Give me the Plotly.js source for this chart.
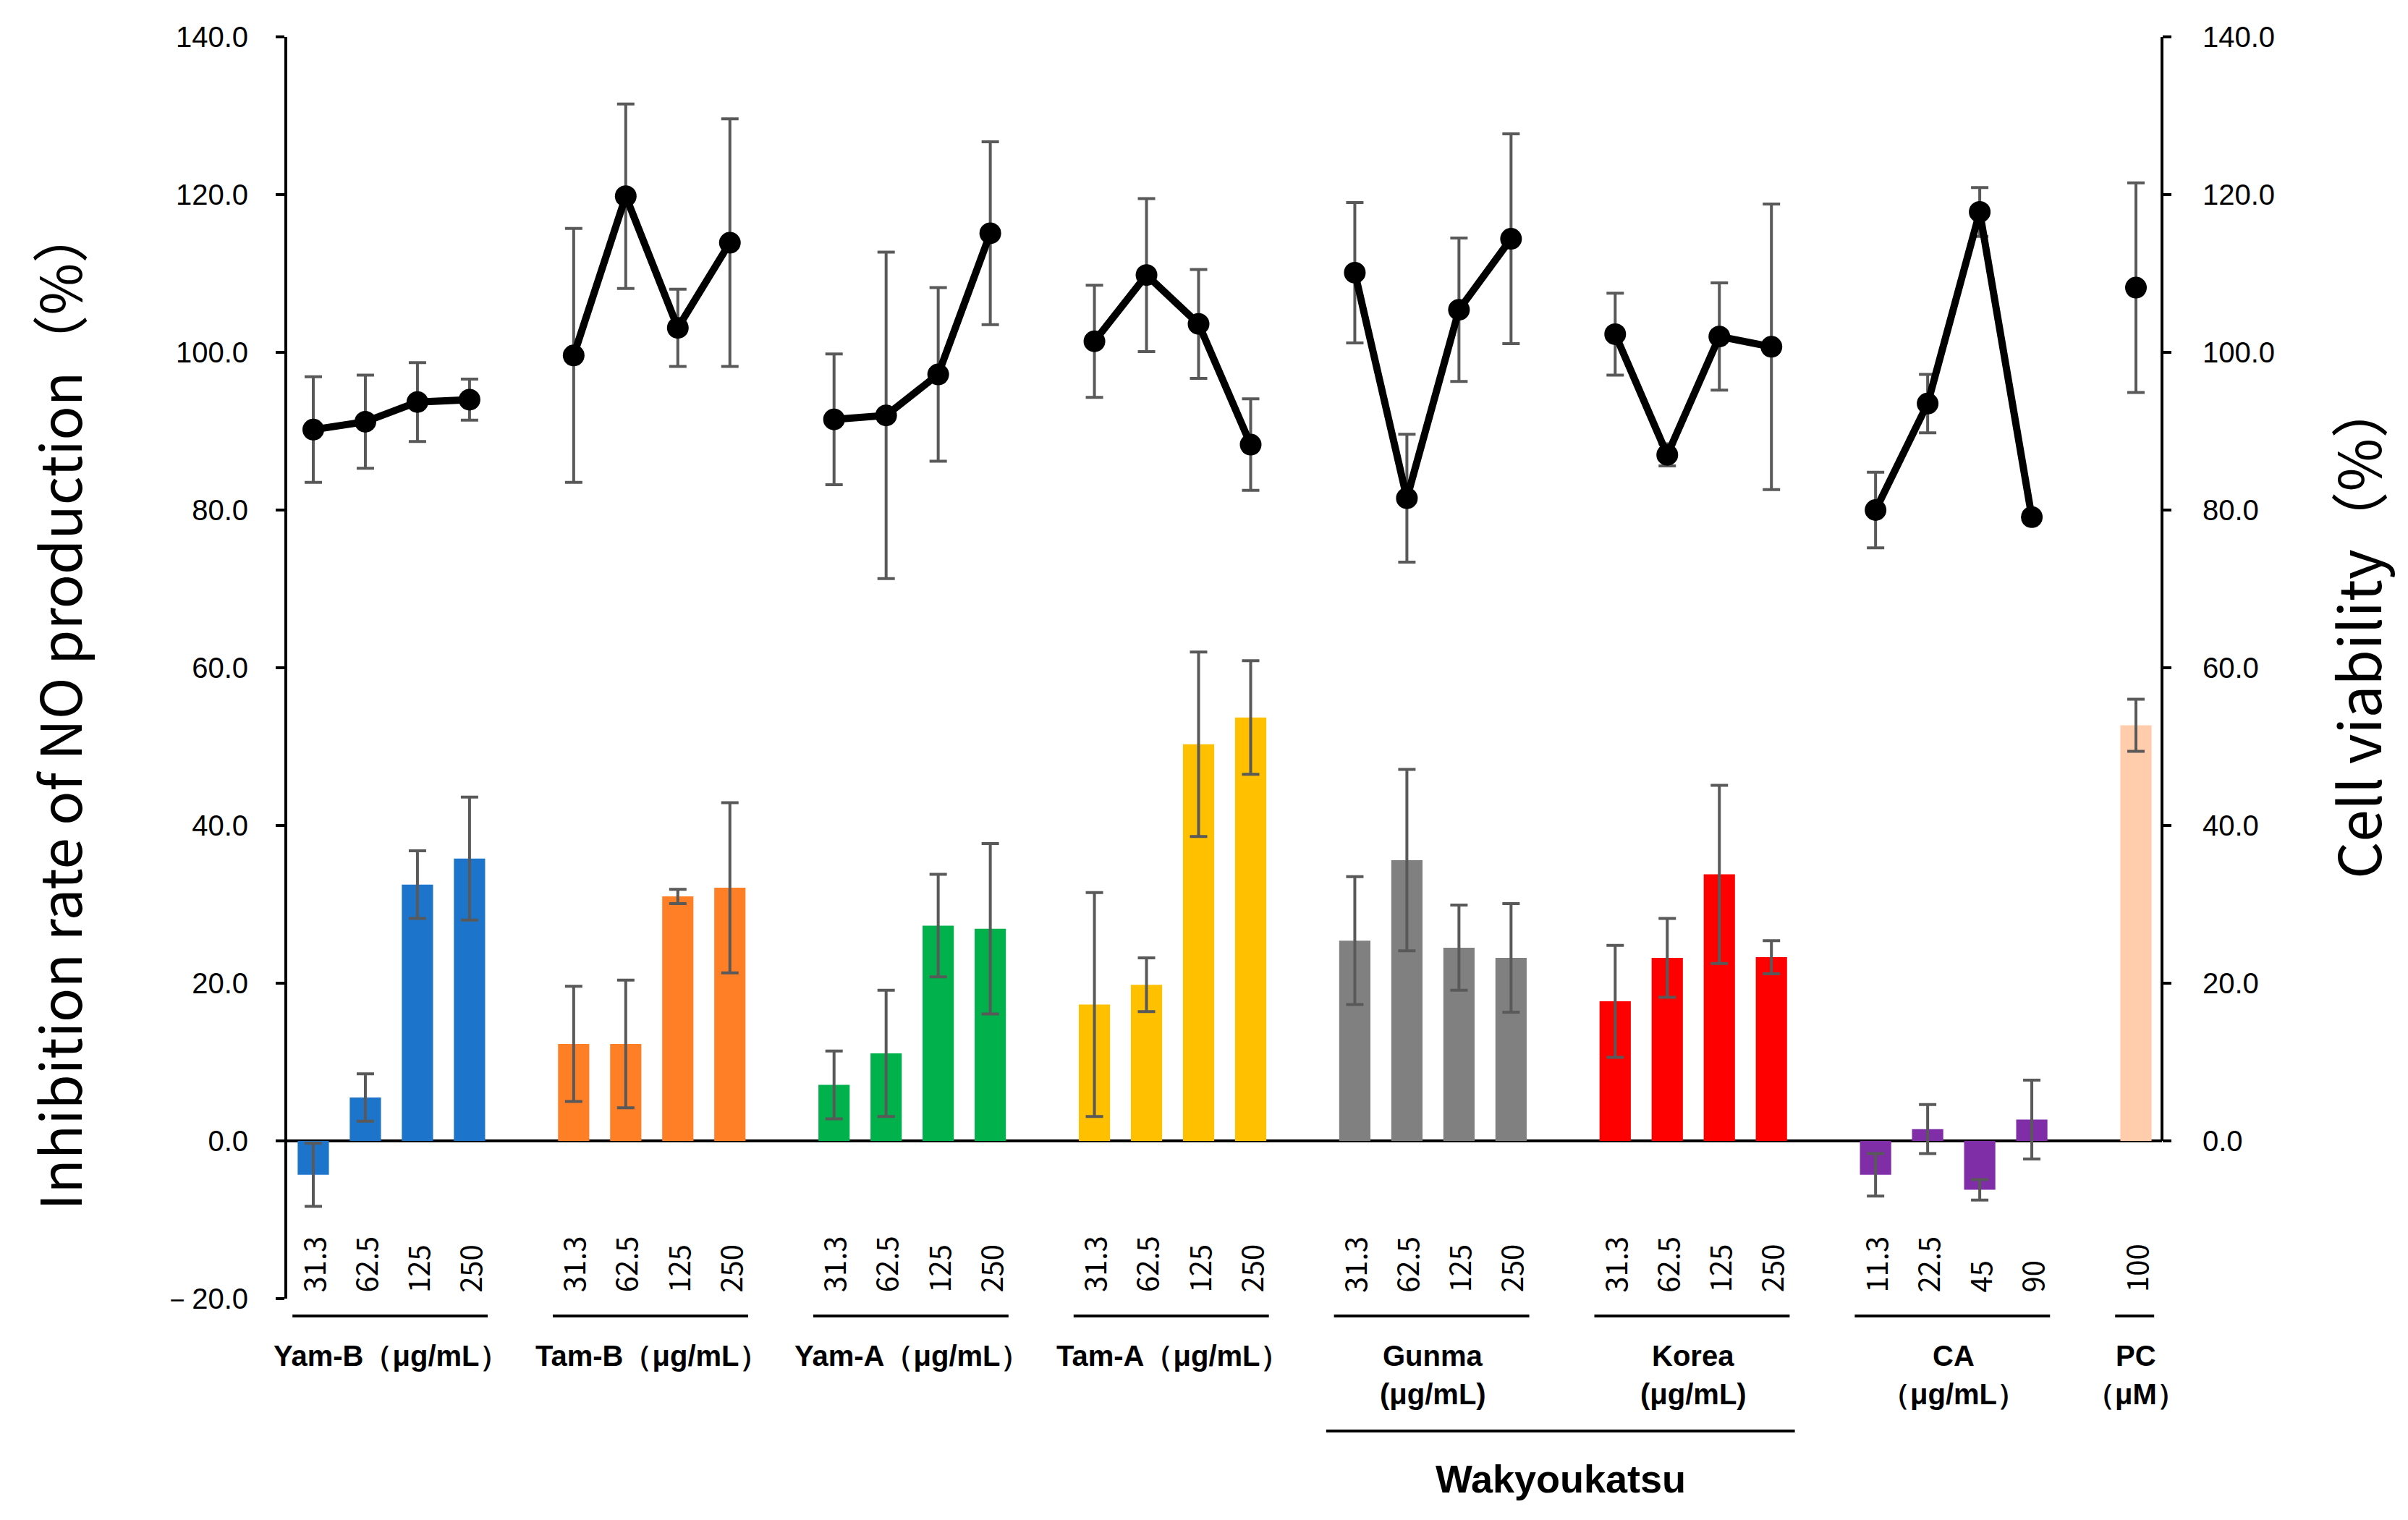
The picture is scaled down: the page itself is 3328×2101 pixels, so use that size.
<!DOCTYPE html>
<html>
    <head>
        <meta charset="utf-8">
        <script src="https://cdn.plot.ly/plotly-3.0.1.min.js"></script>
        <style>body{margin:0;background:#fff;}</style>
    </head>
    <body>
        <div id="plot"></div>
        <script type="text/javascript">
            // groups left to right, one empty slot between them
            var groups = ['Yam-B', 'Tam-B', 'Yam-A', 'Tam-A', 'Gunma', 'Korea', 'CA', 'PC'];
            var groupLine1 = ['Yam-B（μg/mL）', 'Tam-B（μg/mL）', 'Yam-A（μg/mL）', 'Tam-A（μg/mL）', 'Gunma', 'Korea', 'CA', 'PC'];
            var groupLine2 = ['', '', '', '', '(μg/mL)', '(μg/mL)', '（μg/mL）', '（μM）'];
            var doses = [
                ['31.3', '62.5', '125', '250'],
                ['31.3', '62.5', '125', '250'],
                ['31.3', '62.5', '125', '250'],
                ['31.3', '62.5', '125', '250'],
                ['31.3', '62.5', '125', '250'],
                ['31.3', '62.5', '125', '250'],
                ['11.3', '22.5', '45', '90'],
                ['100']
            ];
            var barColors = ['#1C75CA', '#FF7F27', '#00B14C', '#FFC000', '#808080', '#FF0000', '#7F2EA8', '#FFCDAB'];

            // inhibition rate of NO production (%), left axis
            var inhibition = [
                [-4.3, 5.5, 32.5, 35.8],
                [12.3, 12.3, 31.0, 32.1],
                [7.1, 11.1, 27.3, 26.9],
                [17.3, 19.8, 50.3, 53.7],
                [25.4, 35.6, 24.5, 23.2],
                [17.7, 23.2, 33.8, 23.3],
                [-4.3, 1.5, -6.2, 2.7],
                [52.7]
            ];
            var inhibitionErr = [
                [4.0, 3.0, 4.3, 7.8],
                [7.3, 8.1, 0.9, 10.8],
                [4.3, 8.0, 6.5, 10.8],
                [14.2, 3.4, 11.7, 7.2],
                [8.1, 11.5, 5.4, 6.9],
                [7.1, 5.0, 11.3, 2.1],
                [2.7, 3.1, 1.3, 5.0],
                [3.3]
            ];

            // cell viability (%), right axis
            var viability = [
                [90.2, 91.2, 93.7, 94.0],
                [99.6, 119.8, 103.1, 113.9],
                [91.5, 92.0, 97.2, 115.1],
                [101.4, 109.8, 103.6, 88.3],
                [110.1, 81.5, 105.4, 114.4],
                [102.3, 87.0, 102.0, 100.7],
                [80.0, 93.5, 117.8, 79.1],
                [108.2]
            ];
            var viabilityErr = [
                [6.7, 5.9, 5.0, 2.6],
                [16.1, 11.7, 4.9, 15.7],
                [8.3, 20.7, 11.0, 11.6],
                [7.1, 9.7, 6.9, 5.8],
                [8.9, 8.1, 9.1, 13.3],
                [5.2, 1.4, 6.8, 18.1],
                [4.8, 3.7, 3.1, 0.7],
                [13.3]
            ];

            var leftTicks = [-20, 0, 20, 40, 60, 80, 100, 120, 140];
            var rightTicks = [0, 20, 40, 60, 80, 100, 120, 140];

            var errColor = '#595959';
            var numFont = 'Liberation Sans, Arial, sans-serif';
            var jpFont = '"Noto Sans CJK JP", "Noto Sans", sans-serif';

            var traces = [];
            var annotations = [];
            var shapes = [];

            groups.forEach(function(g, gi) {
                var xs = doses[gi].map(function(d, i) { return gi * 5 + i; });

                traces.push({
                    type: 'bar', name: g, x: xs, y: inhibition[gi], width: 0.6,
                    marker: {color: barColors[gi]},
                    error_y: {type: 'data', array: inhibitionErr[gi], color: errColor, thickness: 4, width: 12},
                    showlegend: false
                });
                traces.push({
                    type: 'scatter', mode: 'lines+markers', name: g + ' viability', x: xs, y: viability[gi],
                    yaxis: 'y2',
                    line: {color: '#000', width: 10},
                    marker: {color: '#000', size: 30},
                    error_y: {type: 'data', array: viabilityErr[gi], color: errColor, thickness: 4, width: 12},
                    showlegend: false
                });

                // dose labels standing on the bottom of the plot
                xs.forEach(function(x, i) {
                    annotations.push({xref: 'x', yref: 'y', x: x, y: -19.4, yanchor: 'bottom', xanchor: 'center',
                        text: doses[gi][i], textangle: -90, showarrow: false,
                        font: {family: jpFont, size: 40, color: '#000'}});
                });

                var xStart = xs[0], xEnd = xs[xs.length - 1];
                shapes.push({type: 'line', xref: 'x', yref: 'paper', x0: xStart - 0.4, x1: xEnd + 0.35,
                    y0: -0.0138, y1: -0.0138, line: {color: '#000', width: 4}});
                annotations.push({xref: 'x', yref: 'paper', x: (xStart + xEnd) / 2, y: -0.0453,
                    text: '<b>' + groupLine1[gi] + '</b>', showarrow: false, yanchor: 'middle',
                    font: {family: numFont, size: 40, color: '#000'}});
                if (groupLine2[gi]) {
                    annotations.push({xref: 'x', yref: 'paper', x: (xStart + xEnd) / 2, y: -0.0757,
                        text: '<b>' + groupLine2[gi] + '</b>', showarrow: false, yanchor: 'middle',
                        font: {family: numFont, size: 40, color: '#000'}});
                }
            });

            // Wakyoukatsu bracket under Gunma and Korea
            shapes.push({type: 'line', xref: 'x', yref: 'paper', x0: 19.45, x1: 28.45,
                y0: -0.105, y1: -0.105, line: {color: '#000', width: 4}});
            annotations.push({xref: 'x', yref: 'paper', x: 23.95, y: -0.1428,
                text: '<b>Wakyoukatsu</b>', showarrow: false, yanchor: 'middle',
                font: {family: numFont, size: 54, color: '#000'}});

            // right axis line only spans 0..140
            shapes.push({type: 'line', xref: 'paper', yref: 'y2', x0: 1, x1: 1, y0: 0, y1: 140,
                line: {color: '#000', width: 4}});

            // axis titles
            annotations.push({xref: 'paper', yref: 'paper', x: -0.1228, y: 0.468, xanchor: 'center', yanchor: 'middle',
                text: 'Inhibition rate of NO production（%）', textangle: -90, showarrow: false,
                font: {family: jpFont, size: 78, color: '#000'}});
            annotations.push({xref: 'paper', yref: 'paper', x: 1.1035, y: 0.53,
                xanchor: 'center', yanchor: 'middle',
                text: 'Cell viability（%）', textangle: -90, showarrow: false,
                font: {family: jpFont, size: 80, color: '#000'}});

            var layout = {
                width: 3328, height: 2101,
                margin: {l: 397, r: 340, t: 51, b: 306},
                paper_bgcolor: '#fff', plot_bgcolor: '#fff',
                barmode: 'overlay',
                xaxis: {
                    range: [-0.5, 35.5], showgrid: false, zeroline: false, showline: false,
                    showticklabels: false, ticks: ''
                },
                yaxis: {
                    range: [-20, 140], showgrid: false,
                    zeroline: true, zerolinecolor: '#000', zerolinewidth: 4,
                    showline: true, linecolor: '#000', linewidth: 4,
                    ticks: 'outside', ticklen: 12, tickwidth: 4, tickcolor: '#000',
                    tickmode: 'array', tickvals: leftTicks,
                    ticktext: leftTicks.map(function(v) { return v < 0 ? '－' + Math.abs(v).toFixed(1) : v.toFixed(1); }),
                    ticklabelstandoff: 30,
                    tickfont: {family: numFont, size: 40, color: '#000'}
                },
                yaxis2: {
                    range: [-20, 140], overlaying: 'y', side: 'right', showgrid: false, zeroline: false,
                    showline: false,
                    ticks: 'outside', ticklen: 12, tickwidth: 4, tickcolor: '#000',
                    tickmode: 'array', tickvals: rightTicks,
                    ticktext: rightTicks.map(function(v) { return v.toFixed(1); }),
                    ticklabelstandoff: 35,
                    tickfont: {family: numFont, size: 40, color: '#000'}
                },
                shapes: shapes,
                annotations: annotations,
                showlegend: false
            };

            Plotly.newPlot('plot', traces, layout, {staticPlot: true});
        </script>
    </body>
</html>
